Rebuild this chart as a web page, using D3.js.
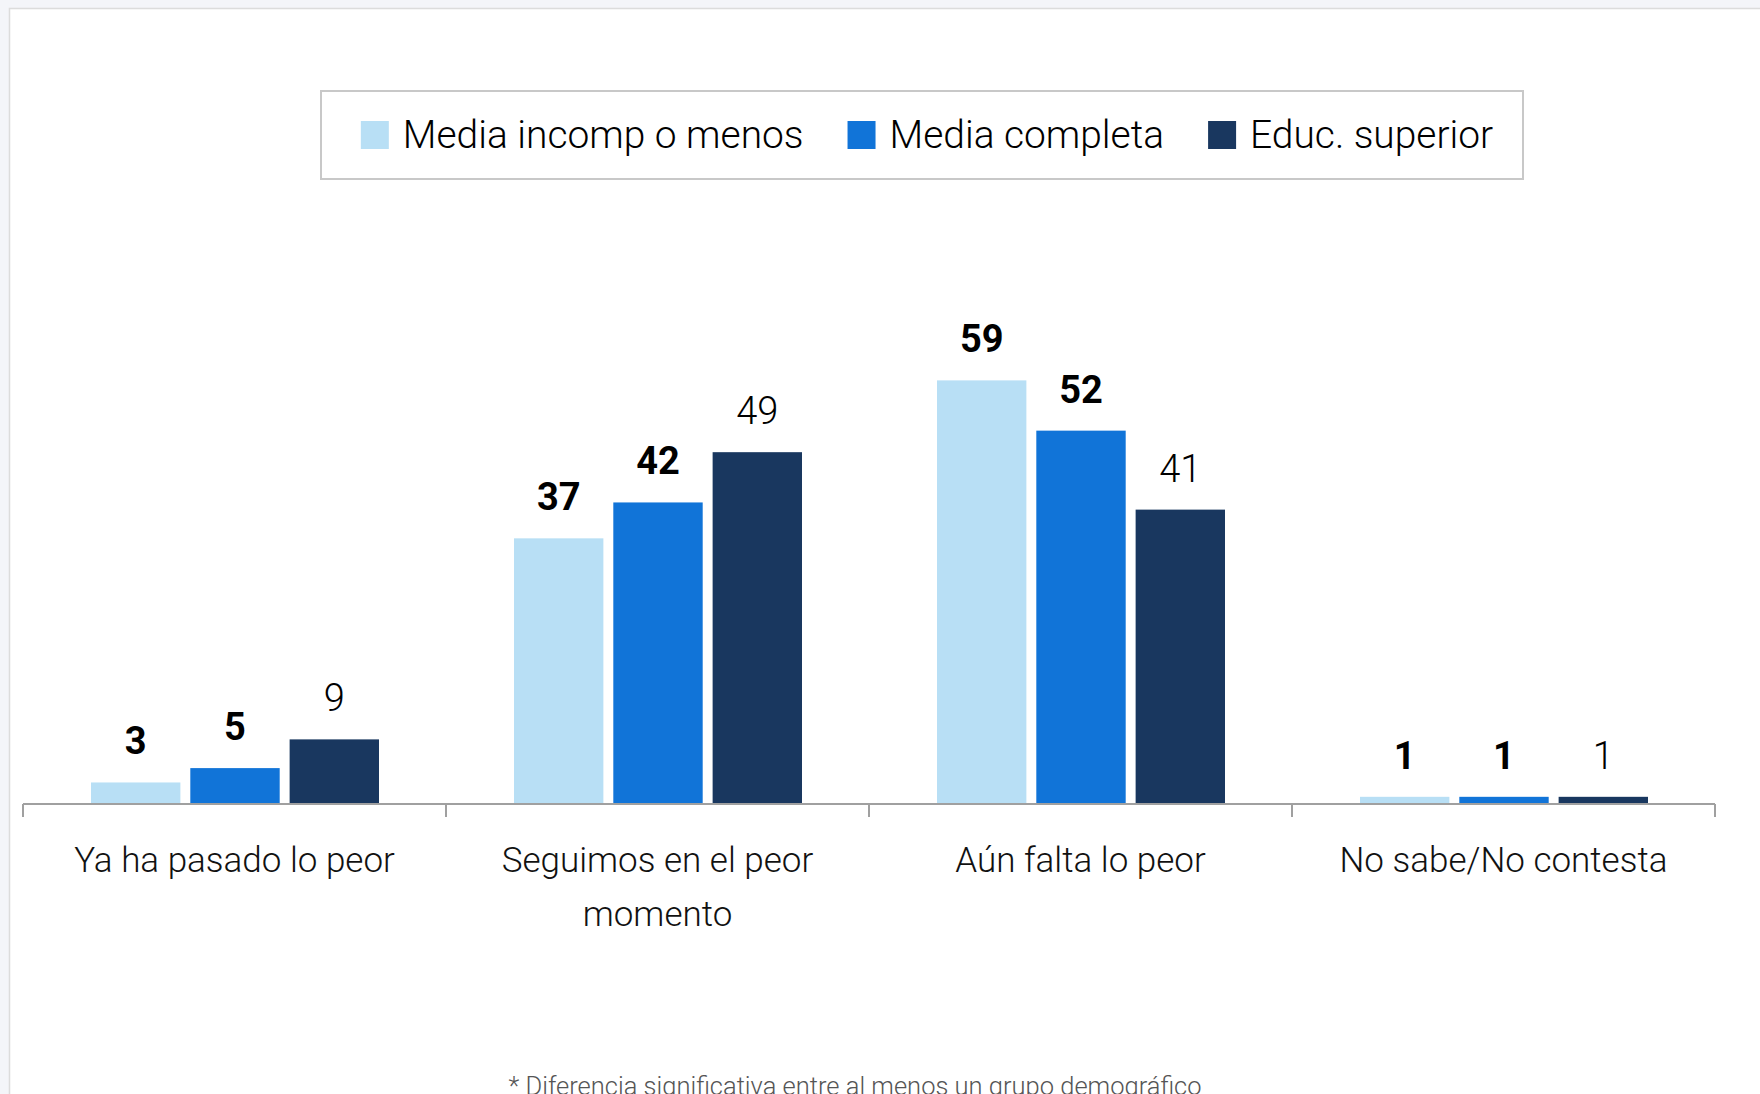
<!DOCTYPE html>
<html>
<head>
<meta charset="utf-8">
<script src="https://cdn.jsdelivr.net/npm/d3@7"></script>
<style>
  html, body { margin: 0; padding: 0; background: #f4f5f9; overflow: hidden; }
  svg { display: block; }
  text { font-family: Roboto, "Open Sans", sans-serif; }
</style>
</head>
<body>
<svg id="chart" width="1760" height="1094"></svg>
<script>
// ---- data ----
const categories = ["Ya ha pasado lo peor", "Seguimos en el peor momento", "Aún falta lo peor", "No sabe/No contesta"];
const seriesNames = ["Media incomp o menos", "Media completa", "Educ. superior"];
const mediaIncomp = [3, 37, 59, 1];
const mediaCompleta = [5, 42, 52, 1];
const educSuperior = [9, 49, 41, 1];
const seriesBold = [true, true, false];
const colors = ["#b8dff5", "#1174d8", "#19375f"];
const footnote = "* Diferencia significativa entre al menos un grupo demográfico";

const seriesValues = [mediaIncomp, mediaCompleta, educSuperior];

const svg = d3.select("#chart");

// panel
svg.append("rect").attr("x", 9.5).attr("y", 8.5).attr("width", 1800).attr("height", 1200)
  .attr("fill", "#ffffff").attr("stroke", "#dcdcdc").attr("stroke-width", 1.5);

const axisY = 804;
const x0 = d3.scaleBand().domain(categories).range([23, 1715]).padding(0);
const x1 = d3.scaleBand().domain(seriesNames).range([68, 356]).paddingInner(0.1).paddingOuter(0);
const y = d3.scaleLinear().domain([0, 60]).range([axisY, axisY - 430.8]);

// bars
const g = svg.append("g");
categories.forEach((cat, ci) => {
  const cg = g.append("g").attr("transform", `translate(${x0(cat)},0)`);
  seriesNames.forEach((s, si) => {
    const v = seriesValues[si][ci];
    cg.append("rect")
      .attr("x", x1(s)).attr("width", x1.bandwidth())
      .attr("y", y(v)).attr("height", axisY - y(v))
      .attr("fill", colors[si]);
    cg.append("text")
      .attr("x", x1(s) + x1.bandwidth() / 2)
      .attr("y", y(v) - 28)
      .attr("text-anchor", "middle")
      .attr("font-size", 38)
      .attr("font-weight", seriesBold[si] ? 700 : 300)
      .attr("fill", "#000")
      .text(v);
  });
});

// axis
const axis = d3.axisBottom(x0).tickSize(0).tickFormat("");
const ag = svg.append("g").attr("transform", `translate(0,${axisY})`).call(axis);
ag.select(".domain").attr("stroke", "#a0a0a0").attr("stroke-width", 2).attr("d", `M23,0H1715`);
const bounds = [...categories.map(c => x0(c)), x0.range()[1]];
ag.selectAll(".sep").data(bounds).enter().append("line")
  .attr("x1", d => d).attr("x2", d => d).attr("y1", 0).attr("y2", 13)
  .attr("stroke", "#a0a0a0").attr("stroke-width", 2);

// category labels with wrapping
const labelFont = 35;
categories.forEach(cat => {
  const cx = x0(cat) + x0.bandwidth() / 2;
  const t = svg.append("text").attr("x", cx).attr("y", 872)
    .attr("text-anchor", "middle").attr("font-size", labelFont).attr("font-weight", 300).attr("fill", "#111");
  const words = cat.split(" ");
  let line = [];
  let tspan = t.append("tspan").attr("x", cx).attr("dy", 0);
  words.forEach(w => {
    line.push(w);
    tspan.text(line.join(" "));
    if (tspan.node().getComputedTextLength() > 350 && line.length > 1) {
      line.pop();
      tspan.text(line.join(" "));
      line = [w];
      tspan = t.append("tspan").attr("x", cx).attr("dy", 54).text(w);
    }
  });
});

// legend
const legBox = { x: 321, y: 91, w: 1202, h: 88 };
svg.append("rect").attr("x", legBox.x).attr("y", legBox.y).attr("width", legBox.w).attr("height", legBox.h)
  .attr("fill", "#fff").attr("stroke", "#c8c8c8").attr("stroke-width", 2);
const lg = svg.append("g");
let lx = 0;
seriesNames.forEach((s, i) => {
  const it = lg.append("g");
  it.append("rect").attr("x", 0).attr("y", -14).attr("width", 28).attr("height", 28).attr("fill", colors[i]);
  const tx = it.append("text").attr("x", 42).attr("y", 13).attr("font-size", 38.9).attr("font-weight", 300)
    .attr("fill", "#000").text(s);
  const w = 42 + tx.node().getComputedTextLength();
  it.attr("transform", `translate(${lx},0)`);
  lx += w + 44;
});
const totalW = lx - 44;
lg.attr("transform", `translate(${legBox.x + (legBox.w - totalW) / 2 + 5},${legBox.y + 44})`);

// footnote (clipped at the bottom edge as in the original)
svg.append("text").attr("x", 855).attr("y", 1095).attr("text-anchor", "middle")
  .attr("font-size", 25.5).attr("font-weight", 300).attr("fill", "#555").text(footnote);
</script>
</body>
</html>
